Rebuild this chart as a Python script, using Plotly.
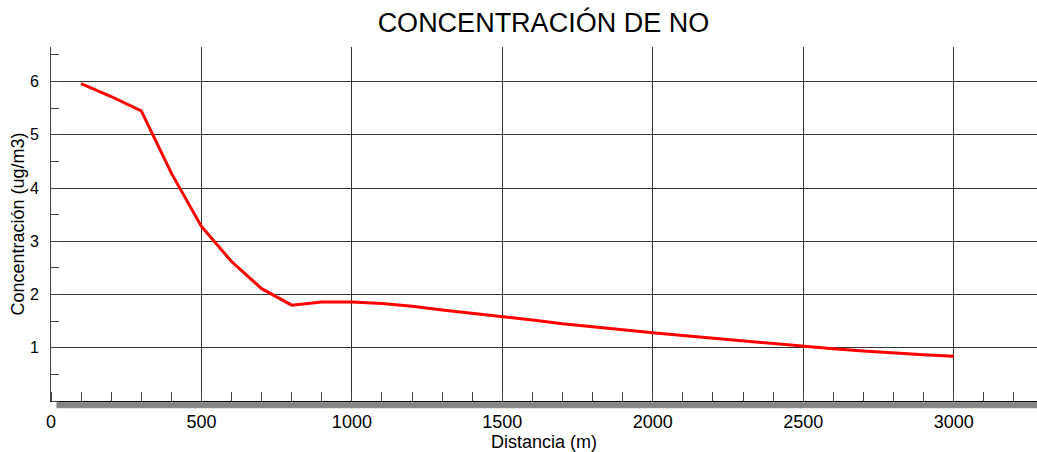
import plotly.graph_objects as go

distancia = [100, 200, 300, 400, 500, 600, 700, 800, 900, 1000,
             1100, 1200, 1300, 1400, 1500, 1600, 1700, 1800, 1900, 2000,
             2100, 2200, 2300, 2400, 2500, 2600, 2700, 2800, 2900, 3000]
concentracion = [5.96, 5.72, 5.45, 4.28, 3.28, 2.62, 2.11, 1.80, 1.86, 1.86,
                 1.83, 1.78, 1.71, 1.65, 1.59, 1.52, 1.45, 1.39, 1.34, 1.28,
                 1.23, 1.18, 1.13, 1.08, 1.02, 0.98, 0.94, 0.90, 0.87, 0.84]

x_ticks = [0, 500, 1000, 1500, 2000, 2500, 3000]
y_ticks = [1, 2, 3, 4, 5, 6]

fig = go.Figure()
fig.add_trace(go.Scatter(x=distancia, y=concentracion, mode="lines",
                         line=dict(color="#ff0000", width=3), showlegend=False))

# barra gris bajo el eje x
fig.add_shape(type="rect", xref="paper", yref="paper",
              x0=0.006, x1=1, y0=-0.019, y1=-0.004,
              fillcolor="#858585", line=dict(color="#858585", width=1),
              layer="above")

fig.update_layout(
    width=1037, height=452,
    margin=dict(l=51, r=0, t=47, b=51),
    paper_bgcolor="white", plot_bgcolor="white",
    font=dict(family="Liberation Sans, Arial", color="black"),
    title=dict(text="CONCENTRACIÓN DE NO", x=0.524, xanchor="center",
               y=0.951, yanchor="middle", font=dict(size=27)),
)
fig.update_xaxes(
    range=[0, 3277], tickvals=x_ticks, ticks="", showline=True,
    linecolor="black", linewidth=1, mirror=False, automargin=False,
    showgrid=True, gridcolor="#333333", gridwidth=1, zeroline=False,
    tickfont=dict(size=18), ticklabelstandoff=4,
    minor=dict(dtick=100, tick0=0, ticks="inside", ticklen=9,
               tickcolor="#444444", showgrid=False),
    title=dict(text="Distancia (m)", font=dict(size=18), standoff=0),
)
fig.update_yaxes(
    range=[0, 6.65], tickvals=y_ticks, ticks="", showline=True,
    linecolor="#444444", linewidth=1, automargin=False,
    showgrid=True, gridcolor="#333333", gridwidth=1, zeroline=False,
    tickfont=dict(size=16), ticklabelstandoff=8,
    minor=dict(dtick=0.5, tick0=0, ticks="inside", ticklen=8,
               tickcolor="#444444", showgrid=False),
    title=dict(text="Concentración (ug/m3)", font=dict(size=18), standoff=0),
)

# quitar el margen de 8px del body para que la figura ocupe toda la ventana
fig.write_html("out.html", config={"displayModeBar": False},
               post_script="document.body.style.margin='0';")
